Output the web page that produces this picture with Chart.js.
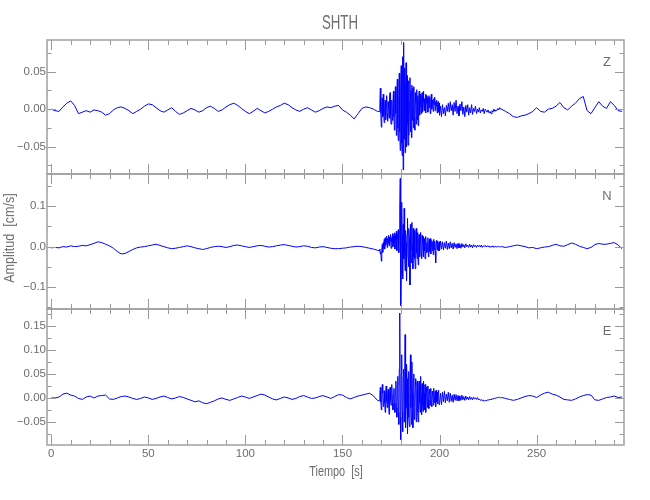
<!DOCTYPE html>
<html>
<head>
<meta charset="utf-8">
<script src="https://cdn.jsdelivr.net/npm/chart.js@4.4.1/dist/chart.umd.min.js"></script>
<style>
body { margin: 0; background: #fff; }
#wrap { position: relative; width: 650px; height: 500px; overflow: hidden; }
canvas { position: absolute; left: 0; top: 0; }
.lbl { position: absolute; color: #6e6e6e; font-family: 'Liberation Sans', Arial, sans-serif; white-space: pre; text-align: center; }
#titulo { left: 290px; top: 11px; width: 100px; font-size: 21px; line-height: 21px; transform: scaleX(0.63); }
#ylab { left: -91px; top: 230px; width: 200px; height: 16px; font-size: 14px; line-height: 16px; transform: rotate(-90deg) scaleX(0.9); }
#xlab { left: 236px; top: 463px; width: 200px; font-size: 14px; line-height: 16px; transform: scaleX(0.78); }
</style>
</head>
<body>
<div id="wrap">
  <canvas id="cZ" width="650" height="500"></canvas>
  <canvas id="cN" width="650" height="500"></canvas>
  <canvas id="cE" width="650" height="500"></canvas>
  <div class="lbl" id="titulo">SHTH</div>
  <div class="lbl" id="ylab">Amplitud  [cm/s]</div>
  <div class="lbl" id="xlab">Tiempo  [s]</div>
</div>
<script>
// tramos de muestreo: [inicio (s), paso (s)]
const tramoA = [0, 2];       // 0 .. 168 s
const tramoB = [169, 0.25];  // 169 .. 199.75 s (evento)
const tramoC = [200, 0.5];   // 200 .. 231.5 s (coda)
const tramoD = [232, 2];     // 232 .. 294 s

// amplitudes en milesimas de cm/s
const zA = [0, -2, -3, 3, 8, 11, 5, -6, -4, -2,
  -4, -1, -2, -4, -8, -6, -1, 2, 3, 1,
  -2, -6, -3, 0, 4, 7, 6, 2, -2, -4,
  -1, 2, -3, -7, -5, -2, 1, -1, -4, -2,
  2, 4, 1, -3, -1, 3, 6, 8, 5, 1,
  -3, -6, -3, 1, -2, -5, -3, 0, 3, 5,
  8, 6, 2, -1, -3, 0, 2, -1, -4, -2,
  1, 3, 2, 4, 5, -1, -4, -8, -13, -6,
  1, 3, 2, 0, -3];
const zB = [-3, 8, 28, -5, -24, 6, 15, -10, 20, -8,
  -18, 4, 12, -14, 3, 18, -6, -16, 10, 2,
  -12, 15, 22, -8, -20, 5, 12, -15, 8, 24,
  -10, -28, 14, 30, -6, -35, 20, 40, -25, -42,
  15, 48, -30, -55, 25, 58, -45, -62, 70, -81,
  89, -40, 55, -58, 30, 62, -50, -20, 45, -48,
  38, -35, 10, 42, -30, 25, -38, 32, -15, 28,
  -25, 30, -12, -28, 22, 8, -20, 26, -14, 18,
  -22, 12, 24, -8, 4, 20, -6, 16, 22, -4,
  10, 24, -2, 14, 6, 20, -5, 18, 8, 15,
  -4, 12, 18, 2, 16, -6, 10, 20, 0, 12,
  8, -3, 14, 6, 16, -2, 10, 4, 12, -5,
  6, 10, -4, 8];
const zC = [-8, 4, -10, 6, -6, 2, -9, 5, -3, 8,
  -4, 10, -2, 6, -8, 9, -3, 12, -6, 4,
  -9, 7, -2, 10, -7, 3, -10, 5, -4, 6,
  -8, 2, -5, 6, -7, 1, -3, 4, -6, 0,
  -4, 2, -5, -1, -3, 1, -6, 0, -2, -4,
  -1, -5, -3, -6, -2, -4, 0, -3, -1, -2,
  1, -1, 2, 0];
const zD = [0, -3, -6, -10, -11, -9, -8, -6, -3, 2,
  -3, -4, 0, 1, 4, 9, 2, -1, 4, 8,
  14, 17, -2, -6, 2, 10, 4, 1, 10, 5,
  -2, -3];

const nA = [-3, -2, -3, 0, -1, 2, 0, 1, 3, 2,
  5, 8, 12, 10, 6, 2, -4, -12, -18, -17,
  -12, -7, -3, -1, 0, 2, 4, 6, 3, 0,
  -3, -5, -4, -2, 0, 2, 0, -3, -5, -7,
  -5, -2, 0, 1, 0, -2, 0, 3, 4, 2,
  0, -2, 0, 2, 3, 1, -1, 0, 2, 4,
  5, 3, 1, -1, 0, 2, 1, -2, -3, -1,
  0, -2, -4, -5, -5, -4, -3, -1, 0, 1,
  0, -2, -4, -6, -9];
const nB = [-10, -6, -18, -12, -36, -8, 6, -14, 10, -4,
  18, -6, 22, 4, 12, 26, -2, 20, 8, 28,
  2, 24, 14, 30, -4, 22, 12, 32, 0, 26,
  10, 34, -6, 28, 16, 38, -10, 30, 20, 42,
  -15, 35, 90, 169, -146, -70, 110, 30, -80, 55,
  -30, 95, -20, -60, 40, 10, -84, 30, 70, -20,
  -50, 45, 20, -95, 55, -10, -40, 60, 5, -55,
  45, -25, 40, -30, -55, 30, 45, -15, -30, 35,
  -45, 20, 30, -25, 10, 35, -20, -30, 28, 15,
  -25, 25, -10, 20, -30, 15, 25, -15, 10, -12,
  22, -25, 5, 18, -12, 20, -18, 8, 15, -10,
  12, -20, 18, -8, 14, -12, -40, 10, 16, -8,
  14, -10, 8, 12];
const nC = [-10, 14, -6, 12, -8, 10, -4, 14, -7, 9,
  -5, 12, -3, 8, -6, 10, -2, 7, -5, 8,
  -3, 6, -4, 8, -1, 5, -3, 7, 0, 4,
  -2, 6, -1, 4, -3, 5, 0, 3, -2, 4,
  0, 3, -1, 4, -2, 2, 0, 3, -1, 2,
  0, 2, -2, 1, -1, 2, -2, 0, 1, -1,
  0, 1, -1, 0];
const nD = [0, -2, 0, 2, 4, 2, 0, -3, -2, -5,
  -3, -1, 0, 3, 6, 2, 1, 5, 9, 6,
  1, -2, -5, -2, 5, 8, 6, 6, 8, 10,
  4, -5];

const eA = [0, 0, 2, 8, 10, 6, 4, -1, -3, 2,
  4, 0, 4, 5, 6, -2, -3, 0, 3, 4,
  2, -1, -3, -1, 2, 0, -3, -1, 2, 4,
  1, -2, 0, 3, 1, -2, -5, -8, -6, -10,
  -12, -9, -6, -2, 0, -3, -5, -2, 1, 4,
  2, -1, 2, 5, 8, 6, 2, -2, -4, -1,
  2, 0, -3, -1, 3, 5, 2, -1, 0, 3,
  5, 2, -1, 3, 7, 6, 1, -2, 1, 4,
  6, 8, 10, 4, -5];
const eB = [-6, 10, 22, -8, -25, 5, 28, 10, -18, -5,
  15, -10, -30, 8, 25, -6, -20, 4, 18, -12,
  -34, 6, 22, -5, -15, 14, 28, -10, -25, 8,
  20, -12, -30, 18, 35, -20, -40, 25, 45, -30,
  -55, 60, 177, -40, -87, 50, 90, -30, -70, 45,
  60, -50, 20, 132, -62, -20, 70, 40, -75, 10,
  55, -40, -60, 35, 90, -20, -55, 75, 10, -62,
  40, 50, -45, -20, 40, 25, -50, 15, 35, -30,
  -50, 20, 35, -10, -30, 45, 5, -35, 30, -15,
  -28, 35, 10, -25, 28, -8, -30, 22, 15, -20,
  25, -5, -22, 18, 10, -15, 20, -12, -18, 14,
  8, -15, 20, -10, 5, 14, -18, 16, -8, 12,
  -12, 10, 16, -14];
const eC = [-12, 10, -14, 12, -8, 14, -10, 8, -6, 12,
  -9, 10, -7, 6, -9, 8, -5, 7, -6, 5,
  -6, 4, -5, 6, -4, 3, -5, 4, -3, 2,
  -4, 3, -3, 1, -4, 2, -2, 0, -3, 1,
  -4, -2, -5, -3, -6, -4, -7, -5, -6, -4,
  -5, -3, -4, -2, -3, -1, -2, 0, -1, 1,
  0, 2, 1, 0];
const eD = [1, -1, -3, -5, -3, 0, 3, 5, 4, 1,
  6, 10, 12, 8, 6, 2, -3, -4, -5, -2,
  2, 5, 7, 6, -4, -5, -2, 1, 2, 4,
  1, 2];

// etiquetas de los ejes
const xTicks = [0, 50, 100, 150, 200, 250];
const yTicksZ = [-0.05, 0, 0.05];
const yTicksN = [-0.1, 0, 0.1];
const yTicksE = [-0.05, 0, 0.05, 0.10, 0.15];

const X_MIN = -2.2, X_MAX = 295;
const FONT = "'Liberation Sans', Arial, sans-serif";
const GRIS = '#6e6e6e';

function serie(a, b, c, d) {
    const pts = [];
    [[tramoA, a], [tramoB, b], [tramoC, c], [tramoD, d]].forEach(([[t0, dt], vals]) => {
        vals.forEach((v, i) => pts.push({ x: t0 + i * dt, y: v / 1000 }));
    });
    return pts;
}

// marco y marcas hacia dentro, estilo IDL
const marco = {
    id: 'marco',
    afterDraw(chart, args, opts) {
        const { ctx, chartArea: a, scales } = chart;
        const x = scales.x, y = scales.y;
        ctx.save();
        ctx.strokeStyle = '#9a9a9a';
        ctx.lineWidth = 1;
        ctx.beginPath();
        for (let t = 0; t <= X_MAX; t += 10) {
            const px = Math.round(x.getPixelForValue(t)) + 0.5;
            const len = t % 50 === 0 ? 10 : 5;
            ctx.moveTo(px, a.top); ctx.lineTo(px, a.top + len);
            ctx.moveTo(px, a.bottom); ctx.lineTo(px, a.bottom - len);
        }
        const k0 = Math.ceil(y.min / opts.paso - 1e-6), k1 = Math.floor(y.max / opts.paso + 1e-6);
        for (let k = k0; k <= k1; k++) {
            const v = k * opts.paso;
            const py = Math.round(y.getPixelForValue(v)) + 0.5;
            const mayor = opts.mayores.some(m => Math.abs(m - v) < 1e-6);
            const len = mayor ? 9 : 4.5;
            ctx.moveTo(a.left, py); ctx.lineTo(a.left + len, py);
            ctx.moveTo(a.right, py); ctx.lineTo(a.right - len, py);
        }
        ctx.stroke();
        ctx.lineWidth = 1.5;
        ctx.strokeStyle = '#a0a0a0';
        ctx.strokeRect(a.left, a.top, a.right - a.left, a.bottom - a.top);
        ctx.fillStyle = GRIS;
        ctx.font = '13px ' + FONT;
        ctx.textAlign = 'center';
        ctx.textBaseline = 'middle';
        ctx.fillText(opts.comp, a.right - 17, a.top + 22);
        ctx.restore();
    }
};

const paneles = [
    { id: 'cZ', comp: 'Z', datos: serie(zA, zB, zC, zD), min: -0.0865, max: 0.0923, marcas: yTicksZ, paso: 0.025, dec: 2, top: 40, bottom: 174 },
    { id: 'cN', comp: 'N', datos: serie(nA, nB, nC, nD), min: -0.1545, max: 0.180, marcas: yTicksN, paso: 0.05, dec: 1, top: 174, bottom: 309 },
    { id: 'cE', comp: 'E', datos: serie(eA, eB, eC, eD), min: -0.098, max: 0.1854, marcas: yTicksE, paso: 0.025, dec: 2, top: 309, bottom: 445 }
];

paneles.forEach((p, i) => {
    const ultimo = i === paneles.length - 1;
    new Chart(document.getElementById(p.id), {
        type: 'line',
        data: {
            datasets: [{
                data: p.datos,
                borderColor: '#0000ff',
                borderWidth: 1,
                pointRadius: 0,
                fill: false,
                tension: 0
            }]
        },
        options: {
            responsive: false,
            animation: false,
            events: [],
            layout: { padding: { left: 0, right: 26, top: p.top, bottom: ultimo ? 500 - p.bottom - 20 : 500 - p.bottom } },
            scales: {
                x: {
                    type: 'linear',
                    min: X_MIN,
                    max: X_MAX,
                    display: ultimo,
                    grid: { display: false, drawTicks: false },
                    border: { display: false },
                    afterBuildTicks: s => { s.ticks = xTicks.map(v => ({ value: v })); },
                    afterFit: s => { if (ultimo) s.height = 20; },
                    ticks: {
                        autoSkip: false,
                        maxRotation: 0,
                        padding: 2,
                        color: GRIS,
                        font: { family: FONT, size: 11.5 },
                        callback: v => String(v)
                    }
                },
                y: {
                    type: 'linear',
                    min: p.min,
                    max: p.max,
                    grid: { display: false, drawTicks: false },
                    border: { display: false },
                    afterBuildTicks: s => { s.ticks = p.marcas.map(v => ({ value: v })); },
                    afterFit: s => { s.width = 47; },
                    ticks: {
                        autoSkip: false,
                        padding: 1,
                        color: GRIS,
                        font: { family: FONT, size: 11.5 },
                        callback: v => (v < -1e-9 ? '\u2212' : '') + Math.abs(v).toFixed(p.dec)
                    }
                }
            },
            plugins: {
                legend: { display: false },
                tooltip: { enabled: false },
                marco: { comp: p.comp, paso: p.paso, mayores: p.marcas }
            }
        },
        plugins: [marco]
    });
});
</script>
</body>
</html>
